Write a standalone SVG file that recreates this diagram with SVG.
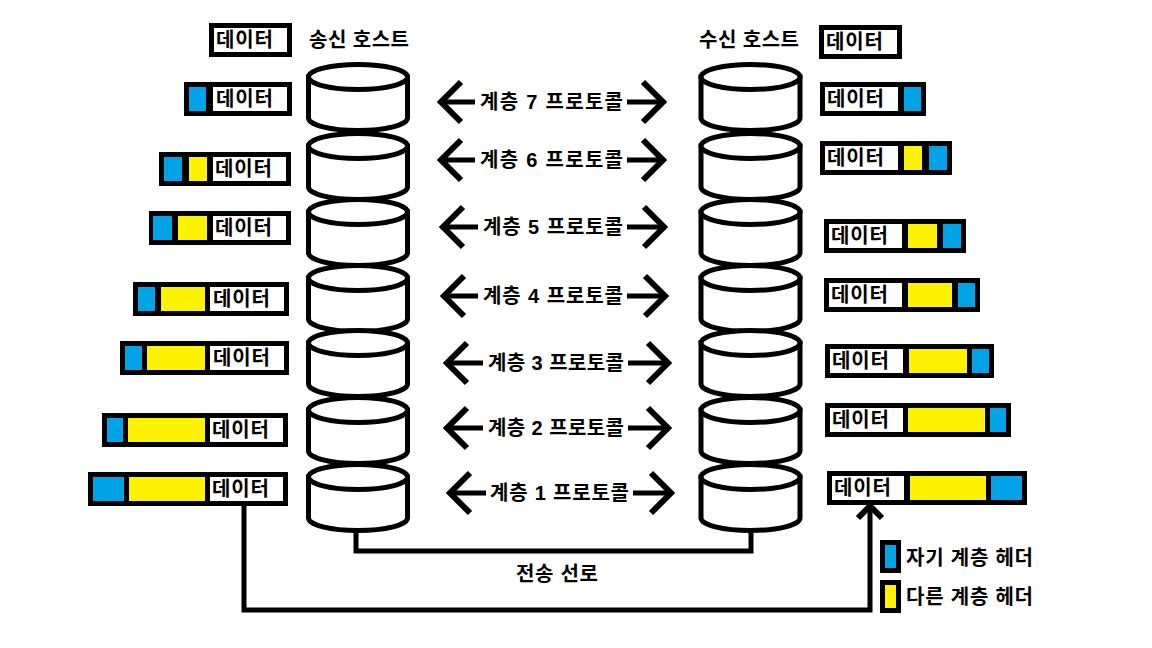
<svg xmlns="http://www.w3.org/2000/svg" width="1152" height="648" viewBox="0 0 1152 648">
<style>
text{font-family:"Liberation Sans","Noto Sans CJK KR",sans-serif;font-weight:bold;font-size:20px;fill:#000;dominant-baseline:central}
.k{fill:#000}.w{fill:#fff}.b{fill:#00A2E8}.y{fill:#FFF200}
.cyl{fill:#fff;stroke:#000;stroke-width:5}
.ln{fill:none;stroke:#000;stroke-width:5}
.hd{fill:none;stroke:#000;stroke-width:6;stroke-linejoin:miter}
</style>
<defs>
<g id="cyl">
<path class="cyl" d="M-49.5,15 V56 A49.5,12.5 0 0 0 49.5,56 V15 Z"/>
<ellipse class="cyl" cx="0" cy="15" rx="49.5" ry="12.5"/>
</g>
</defs>
<rect width="1152" height="648" fill="#fff"/>

<g id="sender-label"><text x="309" y="40" textLength="100" lengthAdjust="spacing">송신 호스트</text></g>
<g id="receiver-label"><text x="699" y="40" textLength="100" lengthAdjust="spacing">수신 호스트</text></g>

<g id="connectors">
<path class="ln" d="M356,528 V551 H751 V528"/>
<path class="ln" d="M244,506 V610 H870 V508"/>
<path class="hd" d="M858,518 L870,506 L882,518"/>
<g id="arrow7"><path class="ln" d="M442,102 H475 M627,102 H662"/><path class="hd" d="M461,82 L441,102 L461,122 M643,82 L663,102 L643,122"/></g>
<g id="arrow6"><path class="ln" d="M442,160 H475 M627,160 H662"/><path class="hd" d="M461,140 L441,160 L461,180 M643,140 L663,160 L643,180"/></g>
<g id="arrow5"><path class="ln" d="M444,227 H478 M627,227 H663"/><path class="hd" d="M463,207 L443,227 L463,247 M644,207 L664,227 L644,247"/></g>
<g id="arrow4"><path class="ln" d="M445,296 H478 M627,296 H664"/><path class="hd" d="M464,276 L444,296 L464,316 M645,276 L665,296 L645,316"/></g>
<g id="arrow3"><path class="ln" d="M448,363 H483 M628,363 H667"/><path class="hd" d="M467,343 L447,363 L467,383 M648,343 L668,363 L648,383"/></g>
<g id="arrow2"><path class="ln" d="M448,428 H483 M628,428 H667"/><path class="hd" d="M467,408 L447,428 L467,448 M648,408 L668,428 L648,448"/></g>
<g id="arrow1"><path class="ln" d="M451,493 H486 M633,493 H670"/><path class="hd" d="M470,473 L450,493 L470,513 M651,473 L671,493 L651,513"/></g>
</g>

<g id="protocol-labels">
<text x="480" y="102" textLength="143" lengthAdjust="spacing">계층 7 프로토콜</text>
<text x="480" y="160" textLength="143" lengthAdjust="spacing">계층 6 프로토콜</text>
<text x="483" y="227" textLength="140" lengthAdjust="spacing">계층 5 프로토콜</text>
<text x="483" y="296" textLength="140" lengthAdjust="spacing">계층 4 프로토콜</text>
<text x="488" y="363" textLength="136" lengthAdjust="spacing">계층 3 프로토콜</text>
<text x="488" y="428" textLength="136" lengthAdjust="spacing">계층 2 프로토콜</text>
<text x="490" y="493" textLength="139" lengthAdjust="spacing">계층 1 프로토콜</text>
<text x="516" y="574" textLength="82" lengthAdjust="spacing">전송 선로</text>
</g>

<g id="sender-stack">
<use href="#cyl" x="358" y="62"/>
<use href="#cyl" x="358" y="131"/>
<use href="#cyl" x="358" y="197"/>
<use href="#cyl" x="358" y="263"/>
<use href="#cyl" x="358" y="328"/>
<use href="#cyl" x="358" y="395"/>
<use href="#cyl" x="358" y="462"/>
</g>
<g id="receiver-stack">
<use href="#cyl" x="750.5" y="62"/>
<use href="#cyl" x="750.5" y="131"/>
<use href="#cyl" x="750.5" y="197"/>
<use href="#cyl" x="750.5" y="263"/>
<use href="#cyl" x="750.5" y="328"/>
<use href="#cyl" x="750.5" y="395"/>
<use href="#cyl" x="750.5" y="462"/>
</g>

<g id="send-pkt0"><rect class="k" x="209" y="23" width="83" height="34"/><rect class="w" x="214" y="28" width="73" height="24"/><text x="216" y="40" textLength="57" lengthAdjust="spacing">데이터</text></g>
<g id="send-pkt1"><rect class="k" x="184" y="82" width="108" height="34"/><rect class="b" x="189" y="87" width="17" height="24"/><rect class="w" x="213" y="87" width="74" height="24"/><text x="216" y="99" textLength="57" lengthAdjust="spacing">데이터</text></g>
<g id="send-pkt2"><rect class="k" x="159" y="152" width="132" height="34"/><rect class="b" x="164" y="157" width="18" height="24"/><rect class="y" x="189" y="157" width="18" height="24"/><rect class="w" x="213" y="157" width="73" height="24"/><text x="215" y="169" textLength="57" lengthAdjust="spacing">데이터</text></g>
<g id="send-pkt3"><rect class="k" x="149" y="211" width="142" height="34"/><rect class="b" x="153" y="216" width="19" height="24"/><rect class="y" x="178" y="216" width="29" height="24"/><rect class="w" x="213" y="216" width="73" height="24"/><text x="215" y="228" textLength="57" lengthAdjust="spacing">데이터</text></g>
<g id="send-pkt4"><rect class="k" x="133" y="282" width="156" height="34"/><rect class="b" x="138" y="287" width="17" height="24"/><rect class="y" x="161" y="287" width="44" height="24"/><rect class="w" x="210" y="287" width="74" height="24"/><text x="213" y="299" textLength="57" lengthAdjust="spacing">데이터</text></g>
<g id="send-pkt5"><rect class="k" x="120" y="341" width="169" height="34"/><rect class="b" x="125" y="346" width="17" height="24"/><rect class="y" x="147" y="346" width="58" height="24"/><rect class="w" x="210" y="346" width="74" height="24"/><text x="213" y="358" textLength="57" lengthAdjust="spacing">데이터</text></g>
<g id="send-pkt6"><rect class="k" x="102" y="413" width="186" height="34"/><rect class="b" x="107" y="418" width="16" height="24"/><rect class="y" x="128" y="418" width="77" height="24"/><rect class="w" x="210" y="418" width="73" height="24"/><text x="212" y="430" textLength="57" lengthAdjust="spacing">데이터</text></g>
<g id="send-pkt7"><rect class="k" x="88" y="472" width="200" height="34"/><rect class="b" x="93" y="477" width="31" height="24"/><rect class="y" x="129" y="477" width="76" height="24"/><rect class="w" x="210" y="477" width="73" height="24"/><text x="212" y="489" textLength="57" lengthAdjust="spacing">데이터</text></g>

<g id="recv-pkt0"><rect class="k" x="819" y="25" width="83" height="34"/><rect class="w" x="824" y="30" width="73" height="24"/><text x="826" y="42" textLength="57" lengthAdjust="spacing">데이터</text></g>
<g id="recv-pkt1"><rect class="k" x="820" y="82" width="106" height="34"/><rect class="w" x="825" y="87" width="73" height="24"/><rect class="b" x="904" y="87" width="17" height="24"/><text x="827" y="99" textLength="57" lengthAdjust="spacing">데이터</text></g>
<g id="recv-pkt2"><rect class="k" x="820" y="141" width="132" height="34"/><rect class="w" x="825" y="146" width="73" height="24"/><rect class="y" x="904" y="146" width="18" height="24"/><rect class="b" x="929" y="146" width="18" height="24"/><text x="827" y="158" textLength="57" lengthAdjust="spacing">데이터</text></g>
<g id="recv-pkt3"><rect class="k" x="824" y="219" width="142" height="34"/><rect class="w" x="829" y="224" width="73" height="24"/><rect class="y" x="908" y="224" width="29" height="24"/><rect class="b" x="943" y="224" width="18" height="24"/><text x="831" y="236" textLength="57" lengthAdjust="spacing">데이터</text></g>
<g id="recv-pkt4"><rect class="k" x="824" y="278" width="156" height="34"/><rect class="w" x="829" y="283" width="73" height="24"/><rect class="y" x="908" y="283" width="44" height="24"/><rect class="b" x="958" y="283" width="17" height="24"/><text x="831" y="295" textLength="57" lengthAdjust="spacing">데이터</text></g>
<g id="recv-pkt5"><rect class="k" x="825" y="344" width="169" height="34"/><rect class="w" x="830" y="349" width="73" height="24"/><rect class="y" x="909" y="349" width="58" height="24"/><rect class="b" x="972" y="349" width="17" height="24"/><text x="832" y="361" textLength="57" lengthAdjust="spacing">데이터</text></g>
<g id="recv-pkt6"><rect class="k" x="825" y="403" width="186" height="34"/><rect class="w" x="830" y="408" width="73" height="24"/><rect class="y" x="908" y="408" width="77" height="24"/><rect class="b" x="990" y="408" width="16" height="24"/><text x="832" y="420" textLength="57" lengthAdjust="spacing">데이터</text></g>
<g id="recv-pkt7"><rect class="k" x="827" y="471" width="200" height="34"/><rect class="w" x="832" y="476" width="72" height="24"/><rect class="y" x="910" y="476" width="76" height="24"/><rect class="b" x="991" y="476" width="31" height="24"/><text x="834" y="488" textLength="57" lengthAdjust="spacing">데이터</text></g>

<g id="legend-own">
<rect class="k" x="880" y="540" width="21" height="33"/><rect class="b" x="885" y="545" width="11" height="23"/>
<text x="906" y="558" textLength="127" lengthAdjust="spacing">자기 계층 헤더</text>
</g>
<g id="legend-other">
<rect class="k" x="880" y="580" width="21" height="33"/><rect class="y" x="885" y="585" width="11" height="23"/>
<text x="906" y="597" textLength="127" lengthAdjust="spacing">다른 계층 헤더</text>
</g>
</svg>
